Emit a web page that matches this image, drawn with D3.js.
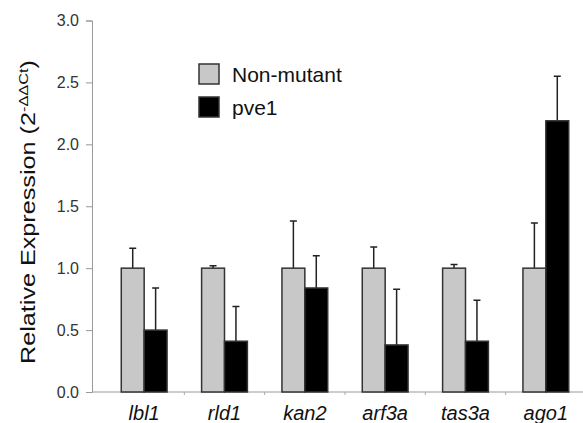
<!DOCTYPE html>
<html>
<head>
<meta charset="utf-8">
<script src="https://cdn.jsdelivr.net/npm/d3@7"></script>
<style>
  body { margin: 0; background: #fff; }
  text { font-family: Arial, "Liberation Sans", sans-serif; }
</style>
</head>
<body>
<svg id="chart" width="583" height="423"></svg>
<script>
// data
const genes = ['lbl1', 'rld1', 'kan2', 'arf3a', 'tas3a', 'ago1'];
const seriesNames = ['Non-mutant', 'pve1'];
const nonMutant = [1.0, 1.0, 1.0, 1.0, 1.0, 1.0];
const nonMutantErr = [0.16, 0.02, 0.38, 0.17, 0.03, 0.365];
const pve1 = [0.5, 0.41, 0.84, 0.38, 0.41, 2.19];
const pve1Err = [0.34, 0.28, 0.26, 0.45, 0.33, 0.36];
const yTicks = [0, 0.5, 1.0, 1.5, 2.0, 2.5, 3.0];

const colors = ['#c8c8c8', '#000'];

const svg = d3.select('#chart');

// scales
const x = d3.scaleBand().domain(genes).range([104, 586]).paddingInner(0.43).paddingOuter(0.215);
const xSub = d3.scaleBand().domain(seriesNames).range([0, x.bandwidth()]);
const y = d3.scaleLinear().domain([0, 3]).range([392, 20.5]);

const rows = genes.map((g, i) => ({
  gene: g,
  vals: [
    { s: seriesNames[0], v: nonMutant[i], e: nonMutantErr[i] },
    { s: seriesNames[1], v: pve1[i], e: pve1Err[i] },
  ],
}));

// y axis
const yAxis = svg.append('g')
  .attr('transform', 'translate(92,0)')
  .call(d3.axisLeft(y).tickValues(yTicks).tickFormat(d3.format('.1f')).tickSize(6).tickPadding(7));
yAxis.select('.domain').attr('stroke', '#999');
yAxis.selectAll('.tick line').attr('stroke', '#999');
yAxis.selectAll('.tick text').attr('font-size', 16).attr('fill', '#333');

// x axis
const xAxis = svg.append('g')
  .attr('transform', `translate(0,${y(0)})`)
  .call(d3.axisBottom(x).tickSize(0).tickPadding(14));
xAxis.select('.domain').attr('stroke', '#999').attr('d', 'M92,0H583');
xAxis.selectAll('.tick text')
  .attr('font-size', 20).attr('font-style', 'italic').attr('fill', '#111');

// small category separator ticks
const gap = x.step() - x.bandwidth();
xAxis.selectAll('line.sep')
  .data(genes.slice(1)).join('line')
  .attr('class', 'sep')
  .attr('x1', d => x(d) - gap / 2).attr('x2', d => x(d) - gap / 2)
  .attr('y1', 0).attr('y2', 3)
  .attr('stroke', '#aaa');

// bars
const groups = svg.append('g').selectAll('g')
  .data(rows).join('g')
  .attr('transform', d => `translate(${x(d.gene)},0)`);

// error bars (upward only)
groups.selectAll('path.err')
  .data(d => d.vals).join('path')
  .attr('class', 'err')
  .attr('d', d => {
    const cx = xSub(d.s) + xSub.bandwidth() / 2;
    const top = y(d.v + d.e);
    return `M${cx},${y(d.v)}V${top}M${cx - 3.5},${top}H${cx + 3.5}`;
  })
  .attr('stroke', '#222').attr('stroke-width', 1.5).attr('fill', 'none');

groups.selectAll('rect')
  .data(d => d.vals).join('rect')
  .attr('x', d => xSub(d.s))
  .attr('y', d => y(d.v))
  .attr('width', xSub.bandwidth())
  .attr('height', d => y(0) - y(d.v))
  .attr('fill', (d, i) => colors[i])
  .attr('stroke', '#333').attr('stroke-width', 1.5);

// y label (source image is stretched vertically, so the label is too)
svg.append('text')
  .attr('transform', 'translate(35,212) rotate(-90) scale(1.26,1)')
  .attr('text-anchor', 'middle')
  .attr('font-size', 20)
  .attr('fill', '#111')
  .call(t => {
    t.append('tspan').text('Relative Expression (2');
    t.append('tspan').attr('dy', -7).attr('font-size', 13).text('-ΔΔCt');
    t.append('tspan').attr('dy', 7).text(')');
  });

// legend
const legend = svg.append('g').attr('transform', 'translate(198,63)');
seriesNames.forEach((s, i) => {
  const row = legend.append('g').attr('transform', `translate(0,${i * 33})`);
  row.append('rect').attr('x', 1).attr('y', 1).attr('width', 20).attr('height', 20)
    .attr('fill', colors[i]).attr('stroke', '#333').attr('stroke-width', 1.5);
  row.append('text').attr('x', 34).attr('y', 18.5).attr('font-size', 21).attr('fill', '#111').text(s);
});
</script>
</body>
</html>
